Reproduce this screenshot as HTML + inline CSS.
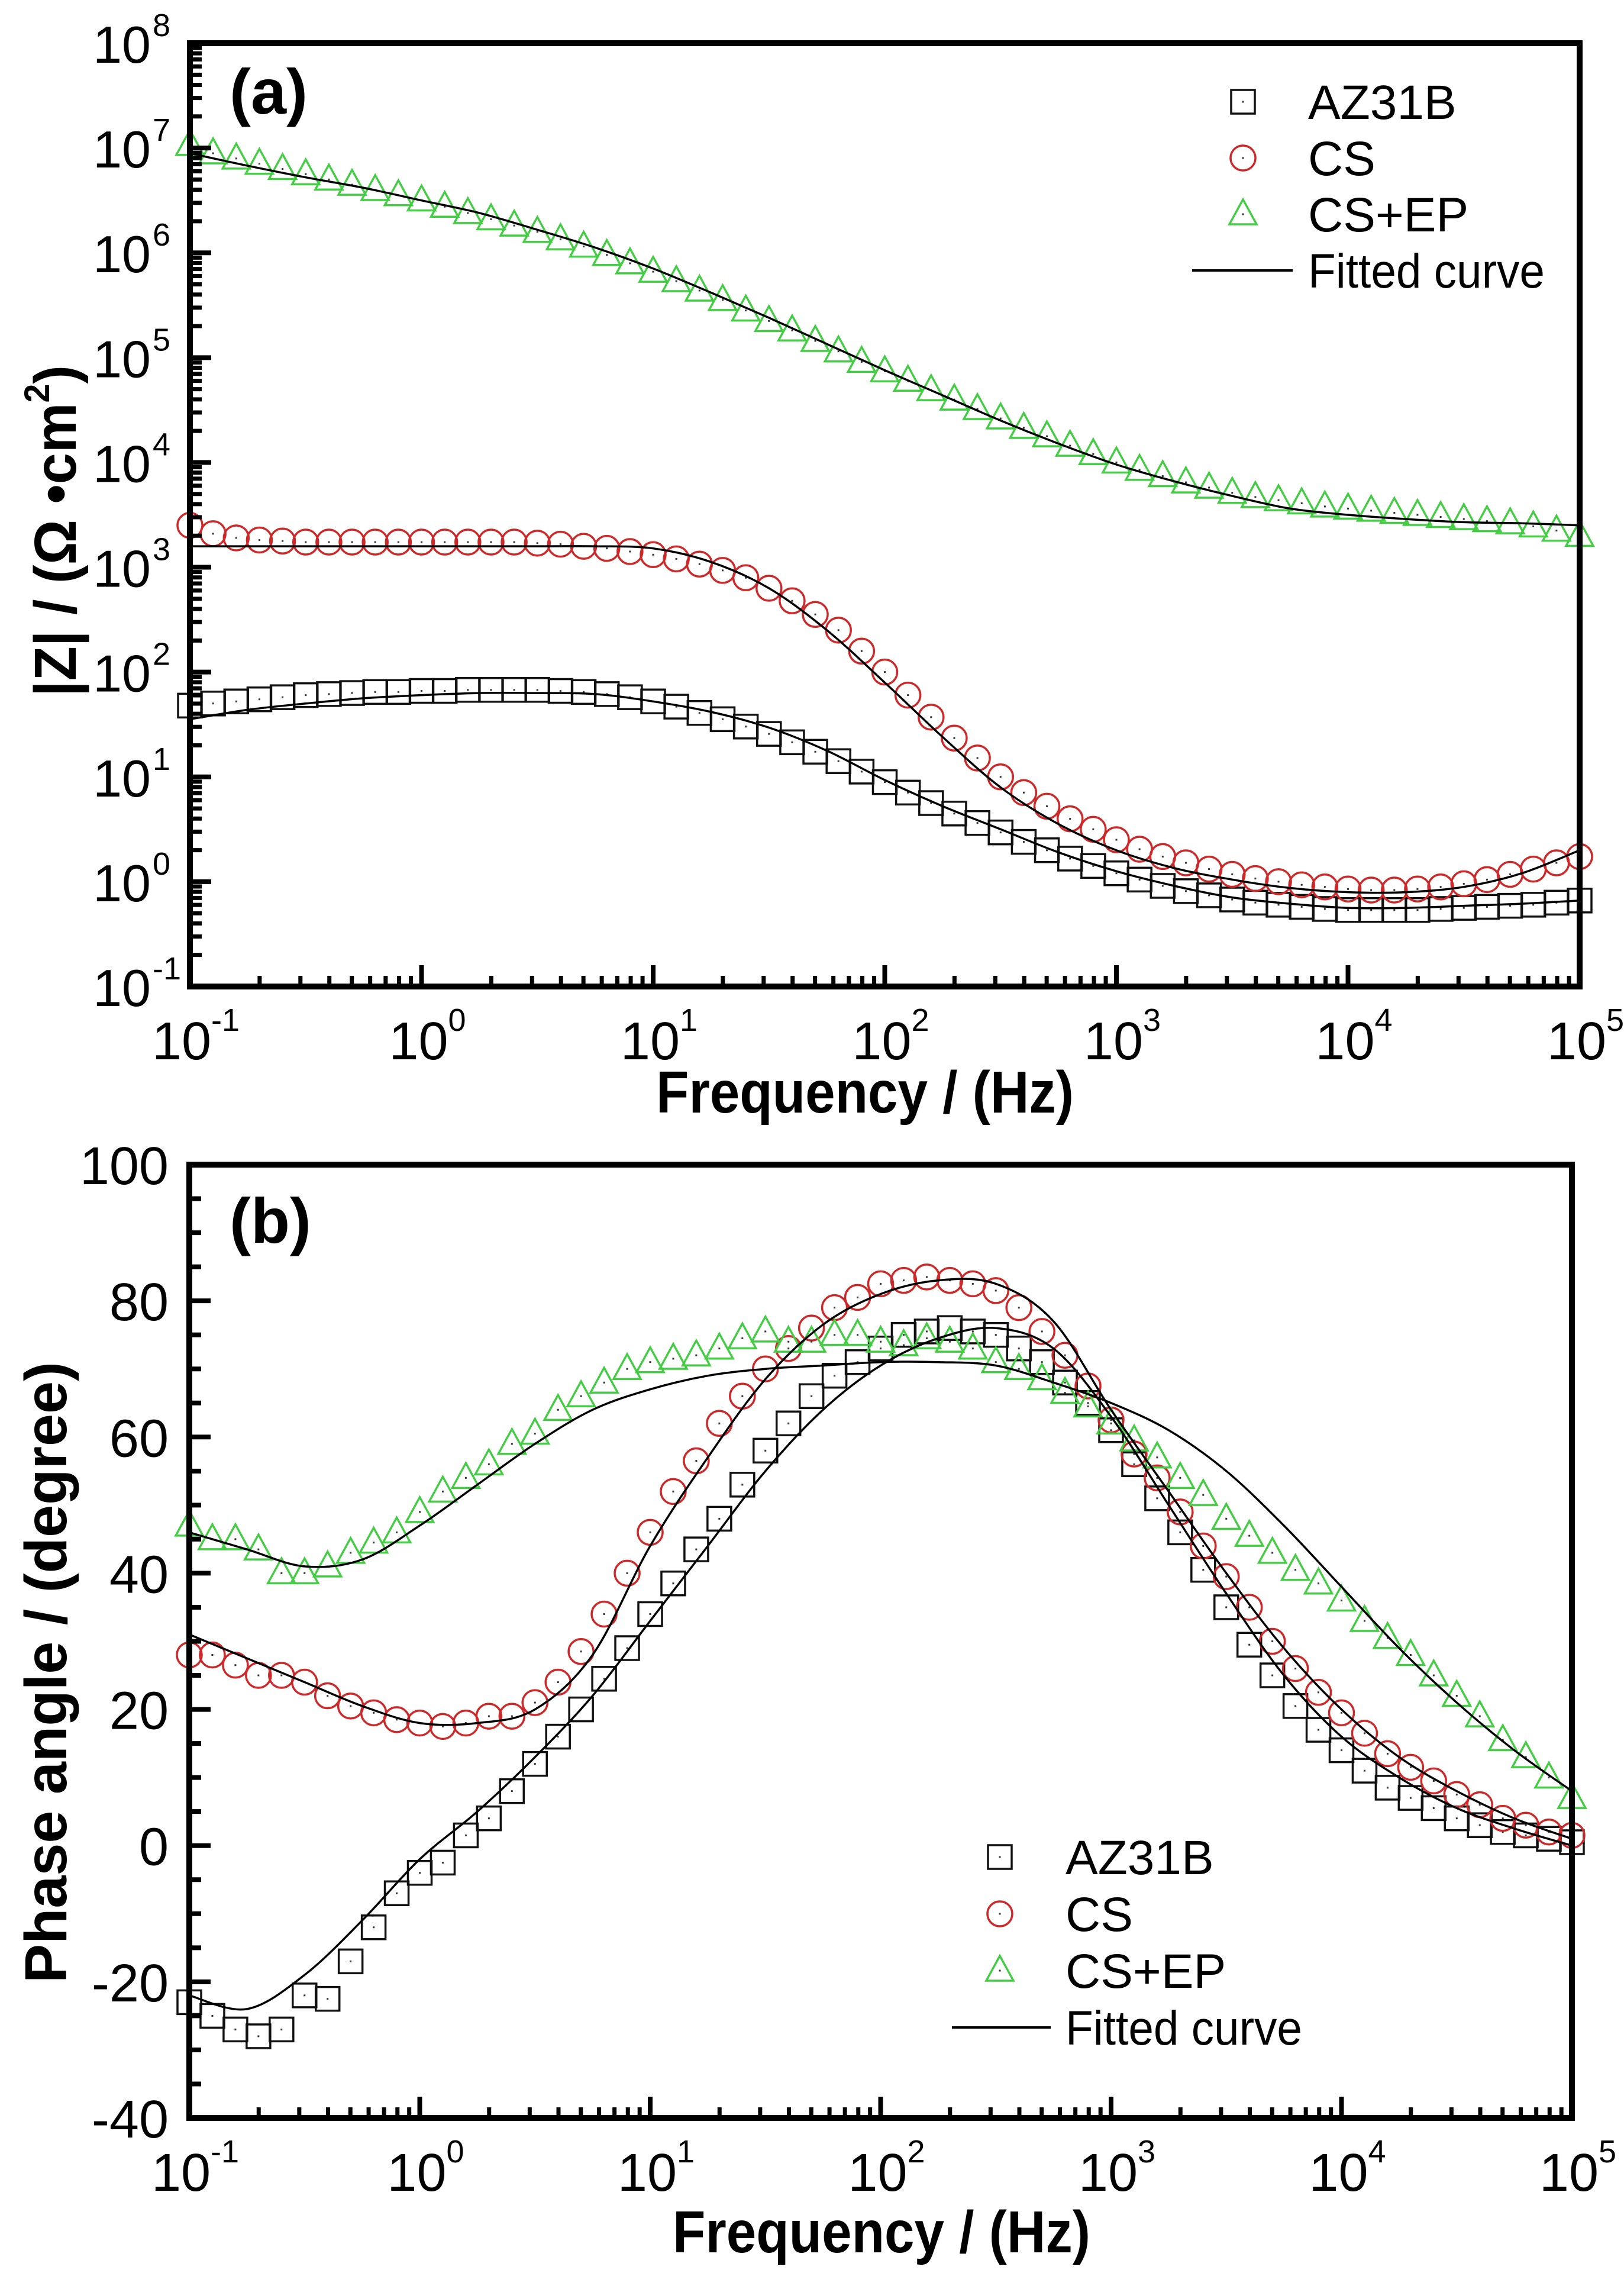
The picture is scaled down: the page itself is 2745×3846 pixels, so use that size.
<!DOCTYPE html>
<html><head><meta charset="utf-8"><style>
html,body{margin:0;padding:0;background:#fff}
svg{display:block}
text{font-family:"Liberation Sans",Arial,sans-serif}
</style></head><body>
<svg id="fig" width="2745" height="3846" viewBox="0 0 2745 3846" xmlns="http://www.w3.org/2000/svg">
<g id="pa"></g>
<g id="pb"></g>
</svg>
<script>
// ---------- data ----------
const markerLogF = [-1,-0.9,-0.8,-0.7,-0.6,-0.5,-0.4,-0.3,-0.2,-0.1,0,0.1,0.2,0.3,0.4,0.5,0.6,0.7,0.8,0.9,1,1.1,1.2,1.3,1.4,1.5,1.6,1.7,1.8,1.9,2,2.1,2.2,2.3,2.4,2.5,2.6,2.7,2.8,2.9,3,3.1,3.2,3.3,3.4,3.5,3.6,3.7,3.8,3.9,4,4.1,4.2,4.3,4.4,4.5,4.6,4.7,4.8,4.9,5];
const fitLogF = [-1,-0.75,-0.5,-0.25,0,0.25,0.5,0.75,1,1.25,1.5,1.75,2,2.25,2.5,2.75,3,3.25,3.5,3.75,4,4.25,4.5,4.75,5];

// panel (a): log10 |Z|
const zAZ31B = [1.68,1.70,1.72,1.74,1.76,1.78,1.79,1.80,1.81,1.81,1.82,1.82,1.83,1.83,1.83,1.83,1.82,1.81,1.79,1.76,1.72,1.67,1.61,1.55,1.48,1.41,1.33,1.24,1.15,1.05,0.95,0.85,0.75,0.65,0.56,0.47,0.38,0.30,0.22,0.15,0.08,0.02,-0.04,-0.09,-0.13,-0.17,-0.20,-0.22,-0.24,-0.26,-0.27,-0.27,-0.27,-0.27,-0.26,-0.25,-0.24,-0.23,-0.22,-0.20,-0.18];
const zCS = [3.40,3.32,3.28,3.26,3.25,3.24,3.24,3.24,3.24,3.24,3.24,3.24,3.24,3.24,3.24,3.23,3.22,3.20,3.18,3.15,3.12,3.08,3.03,2.97,2.90,2.80,2.68,2.55,2.40,2.20,2.00,1.78,1.57,1.37,1.18,1.00,0.85,0.72,0.60,0.50,0.40,0.31,0.24,0.18,0.12,0.07,0.03,0.00,-0.03,-0.05,-0.07,-0.08,-0.08,-0.07,-0.05,-0.02,0.02,0.07,0.12,0.18,0.24];
const zCSEP = [7.03,6.95,6.90,6.85,6.80,6.75,6.70,6.65,6.60,6.55,6.50,6.44,6.38,6.32,6.26,6.20,6.13,6.06,5.98,5.90,5.82,5.73,5.64,5.55,5.45,5.35,5.26,5.16,5.06,4.96,4.87,4.78,4.69,4.60,4.51,4.42,4.33,4.25,4.16,4.08,4.00,3.93,3.87,3.81,3.76,3.71,3.67,3.64,3.61,3.58,3.56,3.54,3.52,3.50,3.48,3.46,3.44,3.42,3.39,3.35,3.30];
const zFitAZ31B = [1.55,1.64,1.70,1.75,1.78,1.80,1.80,1.79,1.72,1.62,1.47,1.25,0.97,0.72,0.50,0.28,0.10,-0.04,-0.15,-0.21,-0.25,-0.25,-0.23,-0.21,-0.18];
const zFitCS = [3.20,3.20,3.20,3.20,3.20,3.20,3.20,3.20,3.18,3.05,2.80,2.40,1.90,1.38,0.90,0.55,0.30,0.13,0.02,-0.06,-0.10,-0.10,-0.05,0.08,0.30];
const zFitCSEP = [6.95,6.83,6.72,6.62,6.50,6.38,6.22,6.05,5.85,5.62,5.38,5.13,4.88,4.64,4.40,4.18,3.98,3.82,3.68,3.56,3.50,3.46,3.43,3.42,3.40];

// panel (b): phase angle (degree)
const pAZ31B = [-23,-25,-27,-28,-27,-22,-22.5,-17,-12,-7,-4,-2.5,1.5,4,8,12,16,20,24.5,29,34,38.5,43.5,48,53,58,62,66,69,71,73,75,75.5,76,75.5,75,73,71,68,65,61,56,51,46,40.5,35,29.5,25,20.5,17,14,11,8.5,7,5.5,4,3,2,1.5,1,0.5];
const pCS = [28,28,26.5,25,25,24,22,20.5,19.5,18.5,18,17.5,18,19,19,21,24,28.5,34,40,46,52,56.5,62,66,70,73,76,79,80.5,82.5,83,83.5,83,82.5,81.5,79,75.5,72,67.5,62.5,57.5,54,49,44,39.5,35,30,26,22.5,19.5,16.5,13.5,11.5,9.5,7.5,6,4,3,2,1.5];
const pCSEP = [47,45,45,43.5,40,40,41,43,44.5,46,49,52,54,56,59,60.5,64,66,68,70,71,71.5,72,73,74.5,75.5,74,74,75,75,74,73.5,74.5,74,73,71,70,68.5,66.5,64.5,62,59.5,57,54,51.5,48,45.5,43,40.5,38.5,36,33,30.5,28,25,22,19,15.5,13,10,7];
const pFitAZ31B = [-22,-24,-19,-11,-2,5,13,22,33,44,55,64,70.5,74.5,76,73,63,50,37,25,16,10,5.5,2.5,0];
const pFitCS = [31,27.5,24,20.5,18,18,20,28,44,57,68.5,76.5,81,83,82.5,77,64,52,40,29,20,13,8,4,1];
const pFitCSEP = [46,43.5,41,42,47,53,59,64,67,69,70,70.5,71,71,70.5,68,65,61,55,47,38,29,21,14,8];

// tick labels
const xTickExp = ['-1','0','1','2','3','4','5'];
const yTickExpA = ['-1','0','1','2','3','4','5','6','7','8'];
const yTickB = ['-40','-20','0','20','40','60','80','100'];

// ---------- helpers ----------
const NS='http://www.w3.org/2000/svg';
function mk(tag, attrs, parent){const e=document.createElementNS(NS,tag);for(const k in attrs)e.setAttribute(k,attrs[k]);parent.appendChild(e);return e;}

const A={x0:321,x1:2670,y0:73,y1:1667,xmin:-1,xmax:5,ymin:-1,ymax:8};
const B={x0:320,x1:2657,y0:1968,y1:3579,xmin:-1,xmax:5,ymin:-40,ymax:100};
function sx(P,v){return P.x0+(v-P.xmin)/(P.xmax-P.xmin)*(P.x1-P.x0);}
function sy(P,v){return P.y1-(v-P.ymin)/(P.ymax-P.ymin)*(P.y1-P.y0);}

function smoothPath(pts){
  let d='M'+pts[0][0].toFixed(1)+','+pts[0][1].toFixed(1);
  for(let i=0;i<pts.length-1;i++){
    const p0=pts[Math.max(0,i-1)],p1=pts[i],p2=pts[i+1],p3=pts[Math.min(pts.length-1,i+2)];
    const c1=[p1[0]+(p2[0]-p0[0])/6,p1[1]+(p2[1]-p0[1])/6];
    const c2=[p2[0]-(p3[0]-p1[0])/6,p2[1]-(p3[1]-p1[1])/6];
    d+=' C'+c1[0].toFixed(1)+','+c1[1].toFixed(1)+' '+c2[0].toFixed(1)+','+c2[1].toFixed(1)+' '+p2[0].toFixed(1)+','+p2[1].toFixed(1);
  }
  return d;
}

function marker(g,type,x,y){
  let e;
  if(type==='sq'){e=mk('rect',{x:x-20,y:y-20,width:40,height:40,fill:'none',stroke:'#111','stroke-width':3.5},g);}
  else if(type==='ci'){e=mk('circle',{cx:x,cy:y,r:21,fill:'none',stroke:'#cc2a2a','stroke-width':3.5},g);}
  else {e=mk('polygon',{points:(x)+','+(y-25)+' '+(x-23)+','+(y+17)+' '+(x+23)+','+(y+17),fill:'none',stroke:'#44cc44','stroke-width':3.5},g);}
  
  
  const dot=mk('rect',{x:x-1.5,y:y-1.5,width:3,height:3,fill:'#333'},g);
  
  
}

function series(P,g,vals,type,name){
  const sg=mk('g',{},g);
  
  
  for(let i=0;i<vals.length;i++){marker(sg,type,sx(P,markerLogF[i]),sy(P,vals[i]));}
}
function fit(P,g,vals,name){
  const pts=vals.map((v,i)=>[sx(P,fitLogF[i]),sy(P,v)]);
  const p=mk('path',{d:smoothPath(pts),fill:'none',stroke:'#000','stroke-width':3.5},g);
  
  
}

function frame(P,g,logY){
  const ax=mk('g',{},g);
  
  
  for(let d=P.xmin;d<=P.xmax;d++){
    const x=sx(P,d);
    const t=mk('line',{x1:x,y1:P.y1,x2:x,y2:P.y1-36,stroke:'#000','stroke-width':8},ax);
    
    
    if(d<P.xmax){for(let m=2;m<=9;m++){const xm=sx(P,d+Math.log10(m));
      const tm=mk('line',{x1:xm,y1:P.y1,x2:xm,y2:P.y1-18,stroke:'#000','stroke-width':7},ax);
      
      }}
  }
  for(let i=0;i<xTickExp.length;i++){
    const x=sx(P,P.xmin+i);
    const tx=mk('text',{x:x+10,y:P.y1+123,'font-size':90,'text-anchor':'middle',fill:'#000'},ax);
    
    
    tx.appendChild(document.createTextNode('10'));
    const sp=mk('tspan',{dy:-48,'font-size':54},tx);sp.textContent=xTickExp[i];
  }
  if(logY){
    for(let d=P.ymin;d<=P.ymax;d++){
      const y=sy(P,d);
      const t=mk('line',{x1:P.x0,y1:y,x2:P.x0+36,y2:y,stroke:'#000','stroke-width':8},ax);
      
      
      if(d<P.ymax){for(let m=2;m<=9;m++){const ym=sy(P,d+Math.log10(m));
        const tm=mk('line',{x1:P.x0,y1:ym,x2:P.x0+20,y2:ym,stroke:'#000','stroke-width':7},ax);
        
        }}
    }
    for(let i=0;i<yTickExpA.length;i++){
      const y=sy(P,P.ymin+i);
      const tx=mk('text',{x:255,y:y+33,'font-size':88,'text-anchor':'end',fill:'#000'},ax);
      
      
      tx.textContent='10';
      const s=mk('text',{x:258,y:y-12,'font-size':54,'text-anchor':'start',fill:'#000'},ax);
      
      
      s.textContent=yTickExpA[i];
    }
  } else {
    for(let v=P.ymin;v<=P.ymax;v+=5){
      const y=sy(P,v);const major=(v%20===0);
      const t=mk('line',{x1:P.x0,y1:y,x2:P.x0+(major?36:20),y2:y,stroke:'#000','stroke-width':8},ax);
      
      
    }
    for(let i=0;i<yTickB.length;i++){
      const y=sy(P,P.ymin+i*20);
      const tx=mk('text',{x:285,y:y+33,'font-size':90,'text-anchor':'end',fill:'#000'},ax);
      
      
      tx.textContent=yTickB[i];
    }
  }
  const r=mk('rect',{x:P.x0,y:P.y0,width:P.x1-P.x0,height:P.y1-P.y0,fill:'none',stroke:'#000','stroke-width':10},ax);
  
  
}

function legend(g,lx,ly,tx,dy,lineX0,lineX1){
  const lg=mk('g',{},g);
  
  
  const items=[['sq','AZ31B'],['ci','CS'],['tr','CS+EP']];
  items.forEach((it,i)=>{
    const y=ly+i*dy;
    const e=mk('g',{},lg);
    
    
    marker(e,it[0],lx,y);
    const t=mk('text',{x:tx,y:y+29,'font-size':82,fill:'#000'},e);
    
    
    t.textContent=it[1];
  });
  const y=ly+3*dy;
  const e=mk('g',{},lg);
  
  
  const l=mk('line',{x1:lineX0,y1:y,x2:lineX1,y2:y,stroke:'#000','stroke-width':4},e);
  
  
  const t=mk('text',{x:tx,y:y+29,'font-size':82,fill:'#000',textLength:400,lengthAdjust:'spacingAndGlyphs'},e);
  
  
  t.textContent='Fitted curve';
}

// ---------- panel a ----------
const ga=document.getElementById('pa');
const da=mk('g',{},ga);


series(A,da,zAZ31B,'sq','series-az31b');
series(A,da,zCS,'ci','series-cs');
series(A,da,zCSEP,'tr','series-cs-ep');
fit(A,da,zFitAZ31B,'fit-az31b');
fit(A,da,zFitCS,'fit-cs');
fit(A,da,zFitCSEP,'fit-cs-ep');
frame(A,ga,true);
legend(ga,2101,172,2211,95,2015,2185);
let t=mk('text',{x:388,y:192,'font-size':108,'font-weight':'bold',fill:'#000'},ga);
t.textContent='(a)';
t=mk('text',{x:1462,y:1880,'font-size':100,'font-weight':'bold','text-anchor':'middle',fill:'#000',textLength:706,lengthAdjust:'spacingAndGlyphs'},ga);
t.textContent='Frequency / (Hz)';
t=mk('text',{x:0,y:0,'font-size':100,'font-weight':'bold','text-anchor':'middle',fill:'#000',transform:'translate(128,897) rotate(-90)',textLength:560,lengthAdjust:'spacingAndGlyphs'},ga);

t.appendChild(document.createTextNode('|Z| / (Ω •cm'));
let s=mk('tspan',{dy:-45,'font-size':60},t);s.textContent='2';
s=mk('tspan',{dy:45},t);s.textContent=')';

// ---------- panel b ----------
const gb=document.getElementById('pb');
const db=mk('g',{},gb);


series(B,db,pAZ31B,'sq','series-az31b');
series(B,db,pCS,'ci','series-cs');
series(B,db,pCSEP,'tr','series-cs-ep');
fit(B,db,pFitAZ31B,'fit-az31b');
fit(B,db,pFitCS,'fit-cs');
fit(B,db,pFitCSEP,'fit-cs-ep');
frame(B,gb,false);
legend(gb,1690,3138,1801,96,1609,1776);
t=mk('text',{x:388,y:2100,'font-size':108,'font-weight':'bold',fill:'#000'},gb);
t.textContent='(b)';
t=mk('text',{x:1490,y:3806,'font-size':100,'font-weight':'bold','text-anchor':'middle',fill:'#000',textLength:706,lengthAdjust:'spacingAndGlyphs'},gb);
t.textContent='Frequency / (Hz)';
t=mk('text',{x:0,y:0,'font-size':100,'font-weight':'bold','text-anchor':'middle',fill:'#000',transform:'translate(112,2826) rotate(-90)',textLength:1050,lengthAdjust:'spacingAndGlyphs'},gb);
t.textContent='Phase angle / (degree)';
</script>
</body></html>
